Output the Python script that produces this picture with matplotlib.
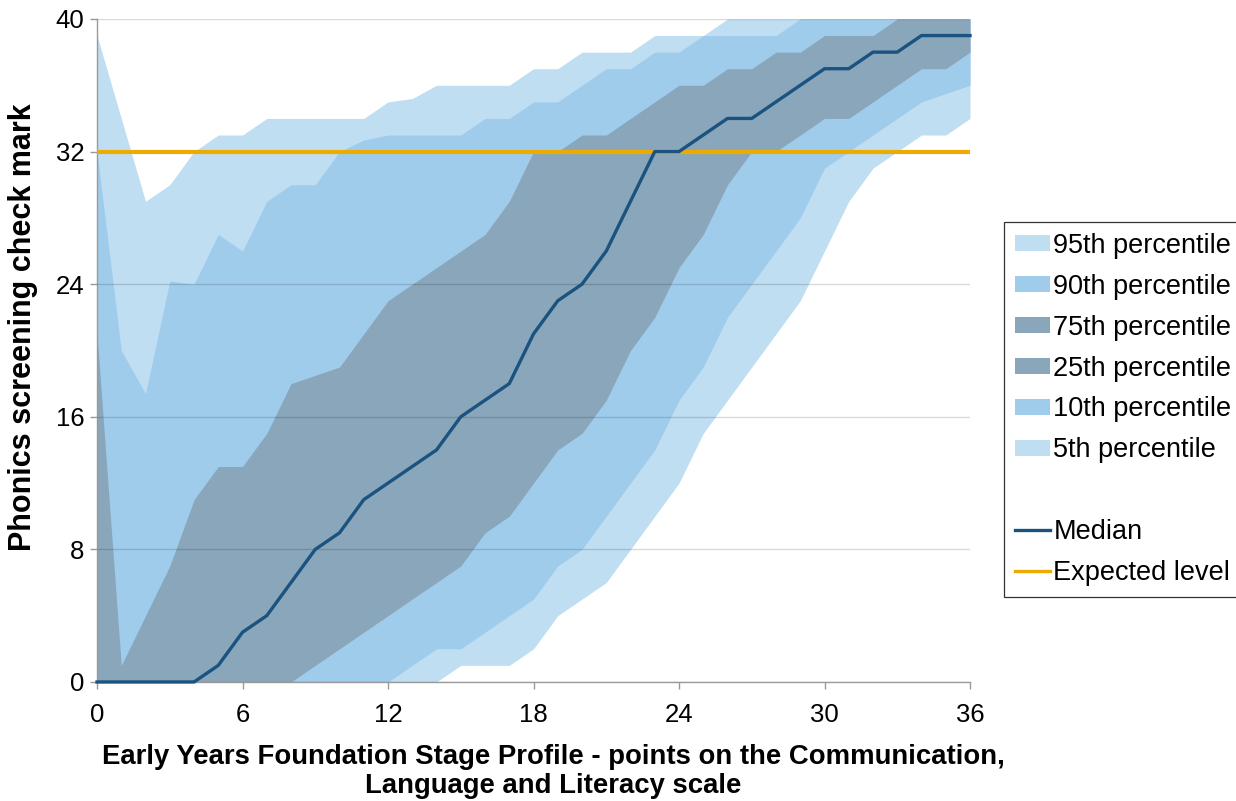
import matplotlib
matplotlib.use('Agg')
import matplotlib.pyplot as plt
from matplotlib.patches import Patch
from matplotlib.lines import Line2D

plt.rcParams['font.family'] = ['Liberation Sans', 'DejaVu Sans']

# EYFSP communication, language and literacy points 0..36
points = list(range(37))

p95 = [39, 34, 29, 30, 32, 33, 33, 34, 34, 34, 34, 34, 35, 35.2, 36, 36, 36, 36, 37, 37,
       38, 38, 38, 39, 39, 39, 40, 40, 40, 40, 40, 40, 40, 40, 40, 40, 40]
p90 = [32, 20, 17.4, 24.2, 24, 27, 26, 29, 30, 30, 32, 32.7, 33, 33, 33, 33, 34, 34, 35, 35,
       36, 37, 37, 38, 38, 39, 39, 39, 39, 40, 40, 40, 40, 40, 40, 40, 40]
p75 = [21, 1, 4, 7, 11, 13, 13, 15, 18, 18.5, 19, 21, 23, 24, 25, 26, 27, 29, 32, 32,
       33, 33, 34, 35, 36, 36, 37, 37, 38, 38, 39, 39, 39, 40, 40, 40, 40]
median = [0, 0, 0, 0, 0, 1, 3, 4, 6, 8, 9, 11, 12, 13, 14, 16, 17, 18, 21, 23,
          24, 26, 29, 32, 32, 33, 34, 34, 35, 36, 37, 37, 38, 38, 39, 39, 39]
p25 = [0, 0, 0, 0, 0, 0, 0, 0, 0, 1, 2, 3, 4, 5, 6, 7, 9, 10, 12, 14,
       15, 17, 20, 22, 25, 27, 30, 32, 32, 33, 34, 34, 35, 36, 37, 37, 38]
p10 = [0, 0, 0, 0, 0, 0, 0, 0, 0, 0, 0, 0, 0, 1, 2, 2, 3, 4, 5, 7,
       8, 10, 12, 14, 17, 19, 22, 24, 26, 28, 31, 32, 33, 34, 35, 35.5, 36]
p5 = [0, 0, 0, 0, 0, 0, 0, 0, 0, 0, 0, 0, 0, 0, 0, 1, 1, 1, 2, 4,
      5, 6, 8, 10, 12, 15, 17, 19, 21, 23, 26, 29, 31, 32, 33, 33, 34]
expected_level = 32

light = '#C0DEF2'
mid = '#A0CCEC'
dark = '#89A6BB'
median_col = '#1B5380'
orange = '#EDAB00'

fig = plt.figure(figsize=(12.36, 8.01), dpi=100)
ax = fig.add_axes([0.0785, 0.1486, 0.7063, 0.8277])

ax.fill_between(points, p5, p95, color=light, lw=0, zorder=1)
ax.fill_between(points, p10, p90, color=mid, lw=0, zorder=1.1)
ax.fill_between(points, p25, p75, color=dark, lw=0, zorder=1.2)
ax.plot(points, median, color=median_col, lw=2.4, zorder=4, clip_on=False)
ax.axhline(expected_level, color=orange, lw=3, zorder=3.5)

ax.set_xlim(0, 36)
ax.set_ylim(0, 40)
ax.set_xticks(range(0, 37, 6))
ax.set_yticks(range(0, 41, 8))
ax.yaxis.grid(True, color='black', alpha=0.15, lw=1)
ax.set_axisbelow(False)

for s in ['top', 'right']:
    ax.spines[s].set_visible(False)
for s in ['left', 'bottom']:
    ax.spines[s].set_color('#9A9A9A')
    ax.spines[s].set_linewidth(1)
ax.tick_params(axis='both', colors='#9A9A9A', labelcolor='black', labelsize=18.5,
               length=5, width=1, direction='out')
ax.tick_params(axis='x', pad=10)
ax.tick_params(axis='y', pad=4)

ax.set_ylabel('Phonics screening check mark', fontsize=22, fontweight='bold')
ax.yaxis.set_label_coords(-0.068, 0.535)
ax.set_xlabel('Early Years Foundation Stage Profile - points on the Communication,\n'
              'Language and Literacy scale', fontsize=19.8, fontweight='bold',
              linespacing=1.15)
ax.xaxis.set_label_coords(0.5223, -0.094)

handles = [
    Patch(facecolor=light, label='95th percentile'),
    Patch(facecolor=mid, label='90th percentile'),
    Patch(facecolor=dark, label='75th percentile'),
    Patch(facecolor=dark, label='25th percentile'),
    Patch(facecolor=mid, label='10th percentile'),
    Patch(facecolor=light, label='5th percentile'),
    Patch(facecolor='none', edgecolor='none', label=' '),
    Line2D([], [], color=median_col, lw=2.4, label='Median'),
    Line2D([], [], color=orange, lw=2.4, label='Expected level'),
]
leg = fig.legend(handles=handles, loc='upper left', bbox_to_anchor=(0.8123, 0.7228),
                 fontsize=19.5, frameon=True, fancybox=False, edgecolor='black',
                 borderaxespad=0, borderpad=0.4, labelspacing=0.55,
                 handlelength=1.3, handleheight=0.55, handletextpad=0.12)
leg.get_frame().set_linewidth(0.9)

fig.savefig('out.png', dpi=100)
